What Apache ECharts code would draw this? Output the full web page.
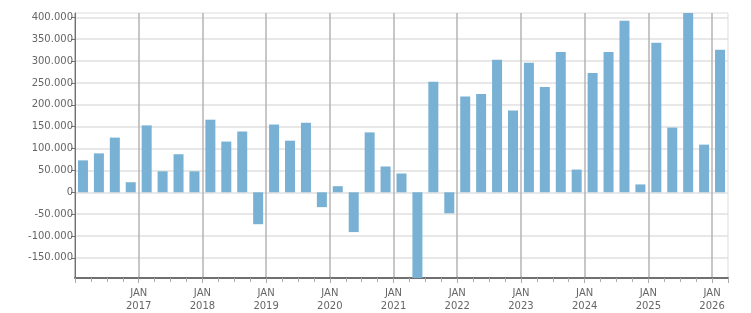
<!DOCTYPE html>
<html lang="en">
<head>
  <meta charset="UTF-8">
  <title>Quarterly chart</title>
  <script src="https://cdn.jsdelivr.net/npm/echarts@6/dist/echarts.min.js"></script>
</head>
<body style="margin:0">
  <div id="echarts" style="width: 751px; height: 313px;"></div>
  <script>
    // quarters from 2016 Q1 to 2026 Q1
    const quarters = [
      '2016-Q1', '2016-Q2', '2016-Q3', '2016-Q4',
      '2017-Q1', '2017-Q2', '2017-Q3', '2017-Q4',
      '2018-Q1', '2018-Q2', '2018-Q3', '2018-Q4',
      '2019-Q1', '2019-Q2', '2019-Q3', '2019-Q4',
      '2020-Q1', '2020-Q2', '2020-Q3', '2020-Q4',
      '2021-Q1', '2021-Q2', '2021-Q3', '2021-Q4',
      '2022-Q1', '2022-Q2', '2022-Q3', '2022-Q4',
      '2023-Q1', '2023-Q2', '2023-Q3', '2023-Q4',
      '2024-Q1', '2024-Q2', '2024-Q3', '2024-Q4',
      '2025-Q1', '2025-Q2', '2025-Q3', '2025-Q4',
      '2026-Q1'
    ];
    const values = [
      73000, 89000, 125000, 23000,
      153000, 48000, 87000, 48000,
      166000, 116000, 139000, -73000,
      155000, 118000, 159000, -34000,
      14000, -91000, 137000, 59000,
      43000, -196000, 253000, -48000,
      219000, 225000, 303000, 187000,
      296000, 241000, 321000, 52000,
      273000, 321000, 392000, 18000,
      342000, 148000, 410000, 109000,
      326000
    ];
    const monthLabel = 'JAN';

    function quarterToX(q) {
      const [y, qq] = q.split('-Q');
      return Number(y) + (Number(qq) - 1) * 0.25 + 0.125;
    }
    function fmt(v) {
      const s = Math.abs(v).toString().replace(/\B(?=(\d{3})+(?!\d))/g, '.');
      return (v < 0 ? '-' : '') + s;
    }

    const chart = echarts.init(document.getElementById('echarts'));
    const textStyle = { color: '#666', fontFamily: 'DejaVu Sans', fontSize: 10 };
    chart.setOption({
      animation: false,
      grid: { left: 75, right: 23, top: 13, bottom: 33, show: true, borderColor: '#dddddd', borderWidth: 1 },
      xAxis: {
        type: 'value',
        min: 2016,
        max: 2026.25,
        interval: 1,
        axisLine: { onZero: false, lineStyle: { color: '#707070', width: 2 } },
        axisTick: { show: true, length: 5, lineStyle: { color: '#aaa' } },
        minorTick: { show: true, splitNumber: 4, length: 4, lineStyle: { color: '#aaa' } },
        splitLine: { show: true, showMaxLine: false, lineStyle: { color: '#b5b5b5', width: 1.5 } },
        axisLabel: {
          ...textStyle,
          lineHeight: 13,
          margin: 9,
          showMinLabel: false,
          showMaxLabel: false,
          formatter: v => Number.isInteger(v) ? monthLabel + '\n' + v : ''
        }
      },
      yAxis: {
        type: 'value',
        min: 'dataMin',
        max: 'dataMax',
        splitNumber: 12,
        axisLine: { show: true, lineStyle: { color: '#707070' } },
        axisTick: { show: true, length: 4, lineStyle: { color: '#707070' } },
        splitLine: { showMinLine: false, showMaxLine: false, lineStyle: { color: '#e0e0e0', width: 1.5 } },
        axisLabel: {
          ...textStyle,
          margin: 2,
          showMinLabel: false,
          showMaxLabel: false,
          formatter: fmt
        }
      },
      series: [{
        type: 'bar',
        barWidth: 10,
        itemStyle: { color: '#78b1d3' },
        data: quarters.map((q, i) => [quarterToX(q), values[i]])
      }]
    });
  </script>
</body>
</html>
